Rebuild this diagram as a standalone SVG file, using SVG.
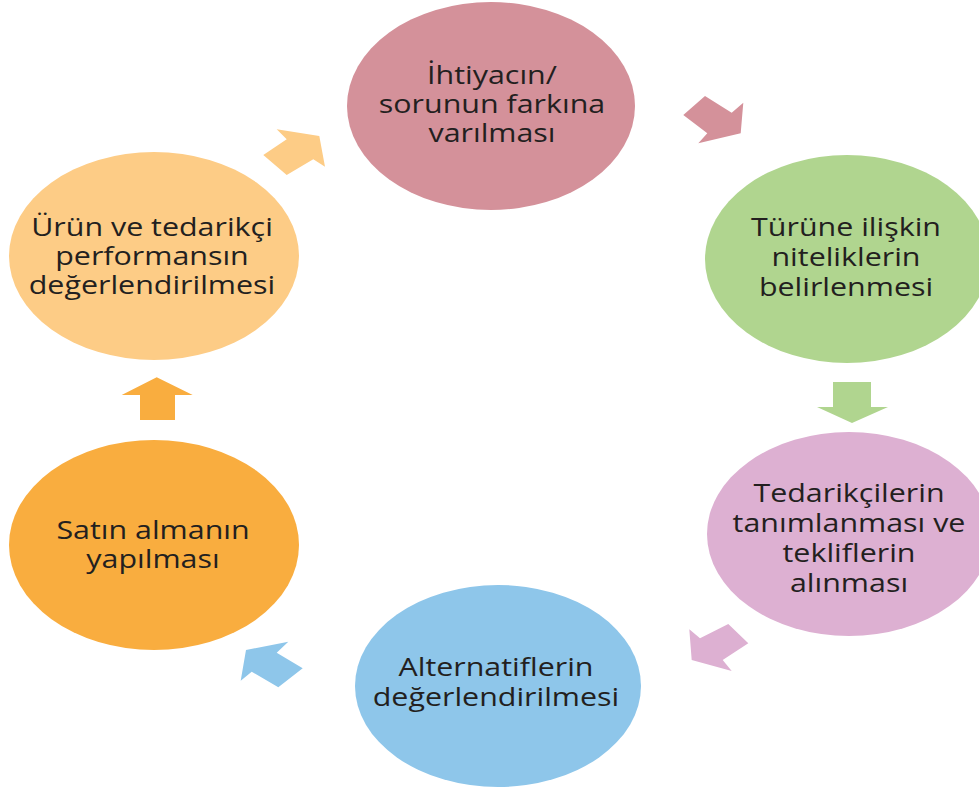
<svg xmlns="http://www.w3.org/2000/svg" width="979" height="789" viewBox="0 0 979 789">
<style>
  .lbl { font-family: "Open Sans", "DejaVu Sans", sans-serif; font-size: 26px; fill: #231f20; text-anchor: middle; }
</style>
<rect width="979" height="789" fill="#ffffff"/>
<g id="connectors">
  <polygon id="a1" fill="#d4919a" points="683.3,115 705,96 731.7,112.7 743.3,102.7 740.7,133.3 698.3,143.3 707.3,133.3"/>
  <polygon id="a2" fill="#b0d58f" points="833,382 871,382 871,407 888,407 852,423 817,407 833,407"/>
  <polygon id="a3" fill="#ddb0d2" points="689.3,629.3 700,638.3 728.3,624 748.3,643.3 722.7,660 731.7,671 691.7,660"/>
  <polygon id="a4" fill="#8ec6ea" points="246,650 288.3,641.7 276.7,652.7 302.7,668.3 278.3,687.3 251.7,671.7 240.7,680.7"/>
  <polygon id="a5" fill="#f9ad3f" points="156.7,377.3 192.7,395 175,395 175,420 140,420 140,395 121.7,395"/>
  <polygon id="a6" fill="#fdcc86" points="276.7,129.3 319.3,136 325,166.7 313.3,159.3 286.7,175 263.3,155 286.7,139.3"/>
</g>
<g id="n1">
  <ellipse cx="491" cy="106" rx="144" ry="104" fill="#d4919a"/>
  <g transform="translate(492,0) scale(1.17,1)">
    <text class="lbl" x="0" y="84">İhtiyacın/</text>
    <text class="lbl" x="0" y="113">sorunun farkına</text>
    <text class="lbl" x="0" y="142">varılması</text>
  </g>
</g>
<g id="n2">
  <ellipse cx="847" cy="259" rx="142" ry="104" fill="#b0d58f"/>
  <g transform="translate(846,0) scale(1.17,1)">
    <text class="lbl" x="0" y="236">Türüne ilişkin</text>
    <text class="lbl" x="0" y="266">niteliklerin</text>
    <text class="lbl" x="0" y="296">belirlenmesi</text>
  </g>
</g>
<g id="n3">
  <ellipse cx="849" cy="534" rx="142" ry="102" fill="#ddb0d2"/>
  <g transform="translate(849,0) scale(1.17,1)">
    <text class="lbl" x="0" y="502">Tedarikçilerin</text>
    <text class="lbl" x="0" y="532">tanımlanması ve</text>
    <text class="lbl" x="0" y="562">tekliflerin</text>
    <text class="lbl" x="0" y="592">alınması</text>
  </g>
</g>
<g id="n4">
  <ellipse cx="498" cy="686" rx="143" ry="101" fill="#8ec6ea"/>
  <g transform="translate(496,0) scale(1.17,1)">
    <text class="lbl" x="0" y="676">Alternatiflerin</text>
    <text class="lbl" x="0" y="706">değerlendirilmesi</text>
  </g>
</g>
<g id="n5">
  <ellipse cx="154" cy="545" rx="145" ry="105" fill="#f9ad3f"/>
  <g transform="translate(153,0) scale(1.17,1)">
    <text class="lbl" x="0" y="539">Satın almanın</text>
    <text class="lbl" x="0" y="568">yapılması</text>
  </g>
</g>
<g id="n6">
  <ellipse cx="154" cy="256" rx="145" ry="104" fill="#fdcc86"/>
  <g transform="translate(152,0) scale(1.17,1)">
    <text class="lbl" x="0" y="236">Ürün ve tedarikçi</text>
    <text class="lbl" x="0" y="265">performansın</text>
    <text class="lbl" x="0" y="294">değerlendirilmesi</text>
  </g>
</g>
</svg>
